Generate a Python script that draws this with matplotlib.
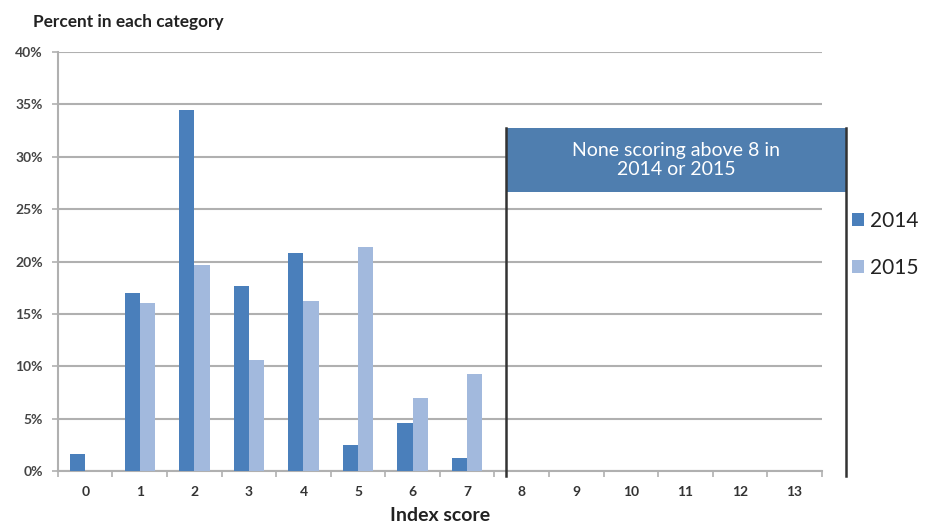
import matplotlib
matplotlib.use("Agg")
import matplotlib.pyplot as plt
from matplotlib.patches import Rectangle
import numpy as np

categories = [str(i) for i in range(14)]
vals_2014 = [1.6, 17.0, 34.5, 17.7, 20.8, 2.5, 4.6, 1.2]
vals_2015 = [0.0, 16.0, 19.7, 10.6, 16.2, 21.4, 7.0, 9.3]
series_labels = ["2014", "2015"]
yticks = [0, 5, 10, 15, 20, 25, 30, 35, 40]
ytick_labels = [f"{v}%" for v in yticks]
box_text = "None scoring above 8 in\n2014 or 2015"

c14 = "#4a7fbb"
c15 = "#a2b9dd"
grid_c = "#b0b0b0"
font = "Lato"

plt.rcParams['font.family'] = [font, 'DejaVu Sans']

fig = plt.figure(figsize=(9.27, 5.31), dpi=100)
ax = fig.add_axes([0.0625, 0.113, 0.824, 0.789])

x = np.arange(len(vals_2014))
w = 0.28
ax.bar(x - w / 2, vals_2014, width=w, color=c14, label=series_labels[0], zorder=3)
ax.bar(x + w / 2, vals_2015, width=w, color=c15, label=series_labels[1], zorder=3)

ax.set_xlim(-0.5, 13.5)
ax.set_ylim(0, 40)
ax.set_yticks(yticks)
ax.set_yticklabels(ytick_labels, fontsize=10, fontweight='bold', color='#444444')
ax.set_xticks(range(14))
ax.set_xticklabels(categories, fontsize=10, fontweight='bold', color='#333333')
ax.set_xticks(np.arange(-0.5, 14, 1), minor=True)
ax.tick_params(axis='x', which='major', length=0, pad=11)
ax.tick_params(axis='x', which='minor', length=4, color=grid_c, width=1.2)
ax.tick_params(axis='y', length=4, color=grid_c, width=1.2, pad=7)

ax.yaxis.grid(True, color=grid_c, linewidth=1.5, zorder=0)
ax.set_axisbelow(True)
for s in ['top', 'right']:
    ax.spines[s].set_visible(False)
for s in ['left', 'bottom']:
    ax.spines[s].set_color(grid_c)
    ax.spines[s].set_linewidth(1.5)

ax.set_xlabel("Index score", fontsize=14, fontweight='bold', color='#222222', labelpad=6)
fig.text(0.036, 0.958, "Percent in each category", fontsize=12.4, fontweight='bold',
         color='#222222', ha='left', va='center')

# annotation box (axes-relative via transforms)
trans = ax.get_xaxis_transform()
x0, x1 = 7.72, 13.95
ybot, ytop, yhead = -0.012, 0.818, 0.667
ax.add_patch(Rectangle((x0, yhead), x1 - x0, ytop - yhead, transform=trans,
                       facecolor="#4f7eaf", edgecolor='none', clip_on=False, zorder=4))
ax.plot([x0, x0], [ybot, ytop], transform=trans, color='#333333', lw=1.8,
        clip_on=False, zorder=5)
ax.plot([x1, x1], [ybot, ytop], transform=trans, color='#333333', lw=1.8,
        clip_on=False, zorder=5)
ax.text((x0 + x1) / 2, (yhead + ytop) / 2, box_text, transform=trans, ha='center',
        va='center', color='white', fontsize=14, zorder=6, linespacing=1.15)

leg = ax.legend(loc='center left', bbox_to_anchor=(1.028, 0.541), frameon=False,
                fontsize=15, handlelength=0.6, handleheight=0.6, handletextpad=0.3,
                labelspacing=1.3, borderaxespad=0)
for t in leg.get_texts():
    t.set_color('#222222')

fig.savefig("out.png", dpi=100)
